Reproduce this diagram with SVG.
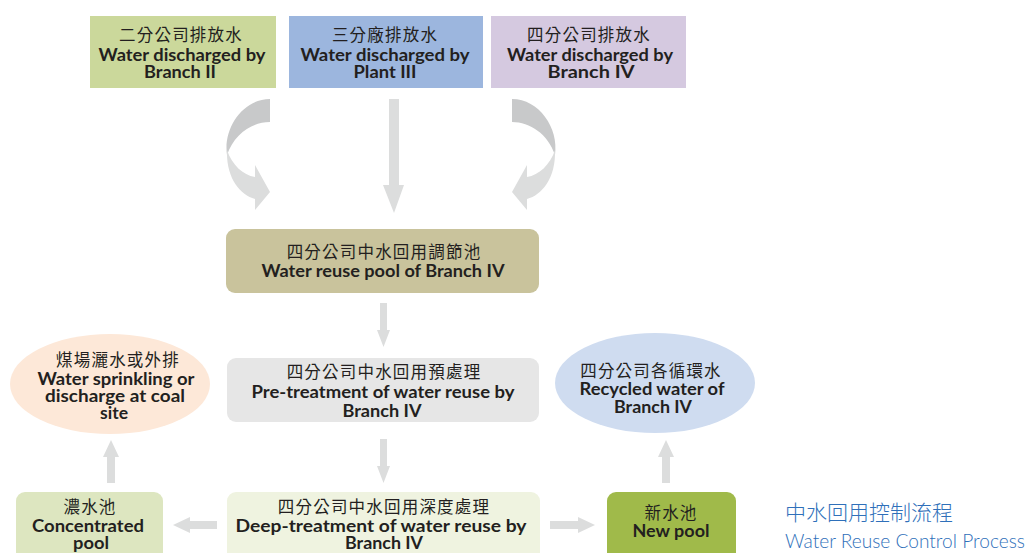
<svg xmlns="http://www.w3.org/2000/svg" width="1025" height="553" viewBox="0 0 1025 553">
<style>
.zh{font-family:"Noto Sans CJK TC","Noto Sans CJK SC",sans-serif;font-size:16.5px;fill:#231f20;text-anchor:middle;letter-spacing:1.2px}
.en{font-family:Lato,"Liberation Sans",sans-serif;font-weight:bold;font-size:16.5px;fill:#231f20;text-anchor:middle}
.arr{fill:#dcdddd}
.arrd{fill:#c8c9ca}
.title-zh{font-family:"Noto Sans CJK TC","Noto Sans CJK SC",sans-serif;font-size:21px;fill:#2f70ba;font-weight:300}
.title-en{font-family:Lato,"Open Sans",sans-serif;font-size:19px;fill:#2f70ba;font-weight:300}
</style>
<rect width="1025" height="553" fill="#ffffff"/>
<g id="connectors">
  <g id="curve-left">
    <path class="arrd" d="M270,99 L270,122 C252,122 234,134 227,155 C223,128 243,99 270,99 Z"/>
    <path class="arr" d="M227,150 C226,178 240,195 255,199 L255,210 L270,192 L255,165 L255,177 C243,175 232,165 227,150 Z"/>
  </g>
  <g id="curve-right" transform="translate(782,0) scale(-1,1)">
    <path class="arrd" d="M270,99 L270,122 C252,122 234,134 227,155 C223,128 243,99 270,99 Z"/>
    <path class="arr" d="M227,150 C226,178 240,195 255,199 L255,210 L270,192 L255,165 L255,177 C243,175 232,165 227,150 Z"/>
  </g>
  <path class="arr" d="M389,99 H399 V185 H404 L394,213 L383,185 H389 Z"/>
  <path class="arr" d="M380,303 H387 V330 H390 L383.5,347 L377,330 H380 Z"/>
  <path class="arr" d="M380,439 H387 V466 H390 L383.5,483 L377,466 H380 Z"/>
  <path class="arr" d="M107,483 H115 V457 H119 L111,440 L103,457 H107 Z"/>
  <path class="arr" d="M662,483 H670 V457 H674 L666,440 L658,457 H662 Z"/>
  <path class="arr" d="M217,521 V529 H190 V533 L173,525 L190,517 V521 Z"/>
  <path class="arr" d="M550,521 V529 H578 V533 L595,525 L578,517 V521 Z"/>
</g>
<g id="node-branch2">
  <rect x="90" y="16" width="186" height="72" fill="#cbd89b"/>
  <text class="zh" x="181" y="41">二分公司排放水</text>
  <text class="en" x="182" y="61" textLength="167" lengthAdjust="spacingAndGlyphs">Water discharged by</text>
  <text class="en" x="180" y="78" textLength="72" lengthAdjust="spacingAndGlyphs">Branch II</text>
</g>
<g id="node-plant3">
  <rect x="289" y="16" width="194" height="72" fill="#9cb6de"/>
  <text class="zh" x="385" y="41">三分廠排放水</text>
  <text class="en" x="385" y="61" textLength="169" lengthAdjust="spacingAndGlyphs">Water discharged by</text>
  <text class="en" x="385" y="78" textLength="63" lengthAdjust="spacingAndGlyphs">Plant III</text>
</g>
<g id="node-branch4">
  <rect x="491" y="16" width="195" height="72" fill="#d5c9e0"/>
  <text class="zh" x="589" y="41">四分公司排放水</text>
  <text class="en" x="590" y="61" textLength="166" lengthAdjust="spacingAndGlyphs">Water discharged by</text>
  <text class="en" x="591" y="78" textLength="87" lengthAdjust="spacingAndGlyphs">Branch IV</text>
</g>
<g id="node-pool">
  <rect x="226" y="229" width="313" height="64" rx="9" fill="#c9c39c"/>
  <text class="zh" x="384" y="258">四分公司中水回用調節池</text>
  <text class="en" x="383" y="277" textLength="243" lengthAdjust="spacingAndGlyphs">Water reuse pool of Branch IV</text>
</g>
<g id="node-pre">
  <rect x="227" y="358" width="312" height="64" rx="9" fill="#e6e6e6"/>
  <text class="zh" x="384" y="378">四分公司中水回用預處理</text>
  <text class="en" x="383" y="398" textLength="263" lengthAdjust="spacingAndGlyphs">Pre-treatment of water reuse by</text>
  <text class="en" x="382" y="417" textLength="79" lengthAdjust="spacingAndGlyphs">Branch IV</text>
</g>
<g id="node-deep">
  <rect x="227" y="492" width="313" height="80" rx="9" fill="#eff3e0"/>
  <text class="zh" x="384" y="513">四分公司中水回用深度處理</text>
  <text class="en" x="381" y="532" textLength="291" lengthAdjust="spacingAndGlyphs">Deep-treatment of water reuse by</text>
  <text class="en" x="384" y="549" textLength="78" lengthAdjust="spacingAndGlyphs">Branch IV</text>
</g>
<g id="node-concentrated">
  <rect x="16" y="492" width="147" height="80" rx="9" fill="#dde6c0"/>
  <text class="zh" x="90" y="513">濃水池</text>
  <text class="en" x="88" y="532" textLength="112" lengthAdjust="spacingAndGlyphs">Concentrated</text>
  <text class="en" x="91" y="549" textLength="36" lengthAdjust="spacingAndGlyphs">pool</text>
</g>
<g id="node-newpool">
  <rect x="607" y="492" width="129" height="80" rx="9" fill="#a0ba4a"/>
  <text class="zh" x="671" y="519">新水池</text>
  <text class="en" x="671" y="537" textLength="77" lengthAdjust="spacingAndGlyphs">New pool</text>
</g>
<g id="node-coal">
  <ellipse cx="110" cy="384" rx="100" ry="50" fill="#fde8d8"/>
  <text class="zh" x="118" y="366">煤場灑水或外排</text>
  <text class="en" x="116" y="385" textLength="157" lengthAdjust="spacingAndGlyphs">Water sprinkling or</text>
  <text class="en" x="115" y="402" textLength="140" lengthAdjust="spacingAndGlyphs">discharge at coal</text>
  <text class="en" x="114" y="419" textLength="28" lengthAdjust="spacingAndGlyphs">site</text>
</g>
<g id="node-recycled">
  <ellipse cx="655" cy="383" rx="100" ry="50" fill="#cfdcf0"/>
  <text class="zh" x="651" y="377">四分公司各循環水</text>
  <text class="en" x="652" y="395" textLength="145" lengthAdjust="spacingAndGlyphs">Recycled water of</text>
  <text class="en" x="653" y="413" textLength="78" lengthAdjust="spacingAndGlyphs">Branch IV</text>
</g>
<g id="title">
  <text class="title-zh" x="785" y="520" textLength="168" lengthAdjust="spacingAndGlyphs">中水回用控制流程</text>
  <text class="title-en" x="785" y="548" textLength="240" lengthAdjust="spacingAndGlyphs">Water Reuse Control Process</text>
</g>
</svg>
